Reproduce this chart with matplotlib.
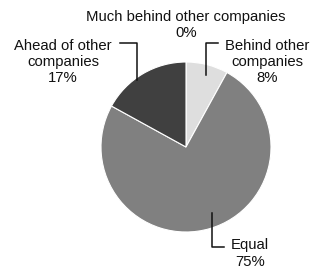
import matplotlib.pyplot as plt

labels = ["Much behind other companies", "Behind other\ncompanies", "Equal", "Ahead of other\ncompanies"]
values = [0, 8, 75, 17]
colors = ["#f0f0f0", "#dedede", "#808080", "#404040"]

# pie of radius 1 centred at (0, 0); 1 unit = 85 px
W, H = 313, 270
cx, cy, R = 186, 147, 85

fig = plt.figure(figsize=(W / 100, H / 100), dpi=100)
ax = fig.add_axes([0, 0, 1, 1])

vals = [v for v in values if v > 0]
cols = [c for v, c in zip(values, colors) if v > 0]
ax.pie(vals, colors=cols, startangle=90, counterclock=False, radius=1,
       wedgeprops=dict(edgecolor="white", linewidth=0.8))

ax.set_xlim(-cx / R, (W - cx) / R)
ax.set_ylim(-(H - cy) / R, cy / R)
ax.set_aspect("auto")
ax.axis("off")

# label text centre and leader line (in pie units), per slice
label_pos = [(0.0, 1.435), (0.953, 1.0), (0.753, -1.253), (-1.447, 1.0)]
leaders = [
    None,
    [(0.235, 0.847), (0.235, 1.224), (0.376, 1.224)],
    [(0.302, -0.776), (0.302, -1.172), (0.447, -1.172)],
    [(-0.576, 0.788), (-0.576, 1.224), (-0.776, 1.224)],
]

for lab, v, pos, ld in zip(labels, values, label_pos, leaders):
    ax.text(pos[0], pos[1], f"{lab}\n{v}%", ha="center", va="center",
            fontsize=10.7, family="Liberation Sans", color="#111111",
            linespacing=1.2)
    if ld:
        xs, ys = zip(*ld)
        ax.plot(xs, ys, color="#111111", linewidth=1.1)

fig.savefig("out.png", dpi=100)
